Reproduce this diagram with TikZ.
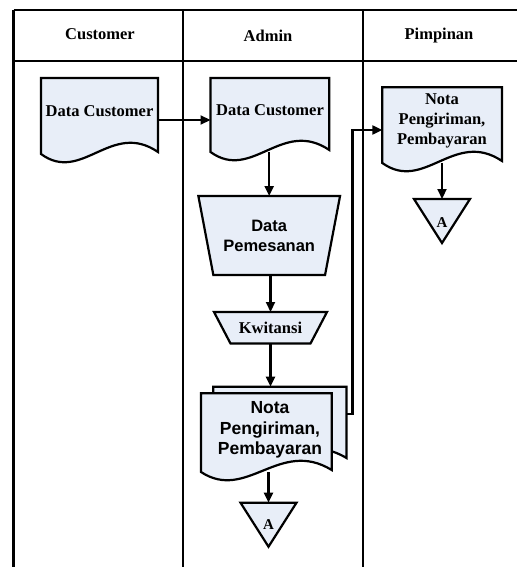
\documentclass[tikz,border=0pt]{standalone}
\usepackage{fontspec}
\setmainfont{Liberation Serif}
\newfontfamily\arialfont{Liberation Sans}
\usetikzlibrary{calc,arrows.meta,backgrounds}
\definecolor{shapefill}{RGB}{232,238,248}
\tikzset{
  frameline/.style={line width=2.2pt},
  shp/.style={draw=black, fill=shapefill, line width=2.2pt, line join=miter},
  box/.style={inner sep=0pt, outer sep=0pt, align=center, font={\bfseries\fontsize{16.5}{20}\selectfont}},
  sbox/.style={box, font={\arialfont\bfseries\fontsize{16.5}{20}\selectfont}},
  arr/.style={line width=2.2pt, line join=miter, -{Triangle[length=10pt,width=9pt]}},
  hdr/.style={font={\bfseries\fontsize{16.5}{20}\selectfont}, anchor=base, inner sep=0pt},
}
% document shape: name, left, top, right, bottom
\newcommand\mydoc[5]{%
  \node[box, minimum width={#4-#2}, minimum height={#5-#3}] (#1) at ({(#2+#4)/2},{(#3+#5)/2}) {};
  \path[shp] (#1.north west) -- (#1.north east) -- ($(#1.south east)+(0,-2)$)
    .. controls ($(#1.south west)!0.6!(#1.south east)+(0,-34)$) and ($(#1.south west)!0.35!(#1.south east)+(0,30)$) .. (#1.south west) -- cycle;
}
% manual operation trapezium: name, cx, top, Wtop, Wbot, H
\newcommand\mytrap[6]{%
  \node[box, minimum width={#4}, minimum height={#6}] (#1) at (#2,{#3+#6/2}) {};
  \path[shp] (#1.north west) -- (#1.north east) -- ($(#1.south east)+({-(#4-#5)/2},0)$) -- ($(#1.south west)+({(#4-#5)/2},0)$) -- cycle;
}
% off-page triangle: name, cx, top, W, H
\newcommand\mytri[5]{%
  \node[box, minimum width={#4}, minimum height={#5}] (#1) at (#2,{#3+#5/2}) {};
  \path[shp] (#1.north west) -- (#1.north east) -- (#1.south) -- cycle;
}
\begin{document}
\begin{tikzpicture}[x=1pt,y=-1pt]
\useasboundingbox (0,0) rectangle (517,567);
% lanes
\draw[frameline] (13.5,10) -- (517,10);
\draw[frameline] (13.5,61) -- (517,61);
\draw[frameline] (13.5,10) -- (13.5,567);
\draw[frameline] (183.3,10) -- (183.3,567);
\draw[frameline] (363.3,10) -- (363.3,567);
\node[hdr] (h1) at (100,39.5) {Customer};
\node[hdr] (h2) at (268,41.7) {Admin};
\node[hdr] (h3) at (439,39.5) {Pimpinan};
% Customer
\mydoc{c1}{41}{78}{158}{154}
\node[box] (c1t) at (99.5,111) {Data Customer};
% Admin
\mydoc{a1}{210.5}{78}{329.3}{152}
\node[box] (a1t) at (270,110) {Data Customer};
\mytrap{dp}{269.2}{196}{141.7}{111.7}{79}
\node[sbox] (dpt) at (dp) {Data\\Pemesanan};
\mytrap{kw}{270.5}{312}{113}{80}{31.5}
\node[box] (kwt) at (kw) {Kwitansi};
\mydoc{bk}{213.3}{386.7}{346.5}{460}
\mydoc{f1}{201}{393.3}{331.7}{472}
\node[sbox, font={\arialfont\bfseries\fontsize{17.5}{20.5}\selectfont}] (f1t) at (270,430) {Nota\\Pengiriman,\\Pembayaran};
\mytri{t1}{268.5}{502.7}{56}{44}
\node[box, font={\bfseries\fontsize{15}{18}\selectfont}] (t1t) at (268.5,525) {A};
% Pimpinan
\mydoc{p1}{382.3}{87.3}{502}{163}
\node[box] (p1t) at (442,120.5) {Nota\\Pengiriman,\\Pembayaran};
\mytri{t2}{442}{199}{56}{44}
\node[box, font={\bfseries\fontsize{15}{18}\selectfont}] (t2t) at (442,222.5) {A};
% connectors
\begin{pgfonlayer}{background}
\coordinate (r1) at (0,120);
\draw[arr] (c1.east |- r1) -- (a1.west |- r1);
\draw[arr] (dp.north |- a1.south) -- (dp.north);
\draw[arr] (kw.north |- dp.south) -- (kw.north);
\draw[arr] (kw.south) -- (kw.south |- bk.north);
\coordinate (k1) at (352.5,414);
\coordinate (k2) at (0,130);
\draw[arr] (bk.east |- k1) -- (k1) -- (k1 |- k2) -- (p1.west |- k2);
\draw[arr] (t1.north |- f1.south) -- (t1.north);
\draw[arr] (t2.north |- p1.south) -- (t2.north);
\end{pgfonlayer}
\end{tikzpicture}
\end{document}
